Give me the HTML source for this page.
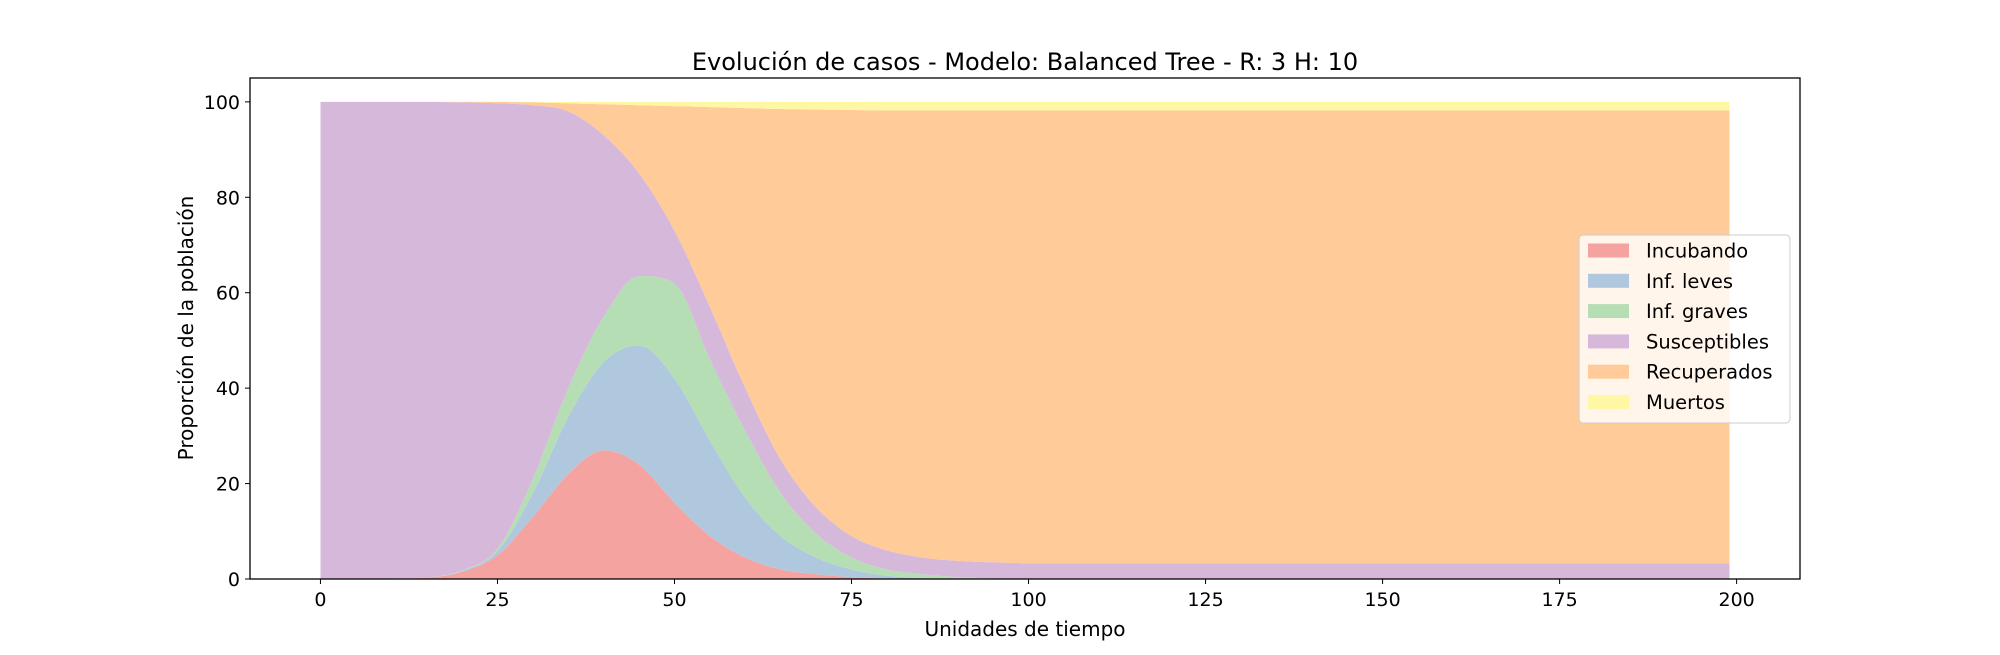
<!DOCTYPE html>
<html><head><meta charset="utf-8"><style>
body{margin:0;background:#fff;}
svg text{font-family:"DejaVu Sans","Liberation Sans",sans-serif;fill:#000;}
</style></head><body>
<svg id="chart" width="2000" height="650" viewBox="0 0 2000 650" xmlns="http://www.w3.org/2000/svg">
<text x="1025" y="70" font-size="24" text-anchor="middle">Evolución de casos - Modelo: Balanced Tree - R: 3 H: 10</text>
<g id="areas"></g>
<rect x="250" y="78" width="1550" height="501" fill="none" stroke="#000" stroke-width="1.3"/>
<g id="xt"></g>
<g id="yt"></g>
<text x="1025" y="636" font-size="20" text-anchor="middle">Unidades de tiempo</text>
<text transform="translate(193,328) rotate(-90)" font-size="20" text-anchor="middle">Proporción de la población</text>
<g>
<rect x="1579" y="235" width="211" height="188" rx="4" fill="#fff" fill-opacity="0.8" stroke="#ccc"/>
<g id="leg"></g>
</g>
</svg>
<script>
const times=[0,5,10,15,20,25,30,35,40,45,50,55,60,65,70,75,80,85,90,95,100,105,110,115,120,125,130,135,140,145,150,155,160,165,170,175,180,185,190,195,199];
const incubando=[0,0,0.1,0.3,1.5,5,13,22,27,24,16,9,4.5,2,1,0.4,0.1,0,0,0,0,0,0,0,0,0,0,0,0,0,0,0,0,0,0,0,0,0,0,0,0];
const leves=[0,0,0,0,0.2,0.8,5,12,18.5,25,26,20,12.5,7,3.5,1.6,0.6,0.2,0,0,0,0,0,0,0,0,0,0,0,0,0,0,0,0,0,0,0,0,0,0,0];
const graves=[0,0,0,0,0.1,0.5,3,6,9.5,14.5,20,17,14,9,5,2.5,1.3,0.8,0.4,0.1,0,0,0,0,0,0,0,0,0,0,0,0,0,0,0,0,0,0,0,0,0];
const susceptibles=[100,100,99.9,99.7,98.1,93.4,78.3,58,38,21.5,11,11,9,7,5.5,4.5,4,3.5,3.4,3.4,3.3,3.3,3.3,3.3,3.3,3.3,3.3,3.3,3.3,3.3,3.3,3.3,3.3,3.3,3.3,3.3,3.3,3.3,3.3,3.3,3.3];
const recuperados=[0,0,0,0,0.1,0.3,0.6,1.7,6.5,14.3,26.1,41.9,58.7,73.5,83.4,89.3,92.2,93.7,94.4,94.7,94.9,94.9,94.9,94.9,94.9,94.9,94.9,94.9,94.9,94.9,94.9,94.9,94.9,94.9,94.9,94.9,94.9,94.9,94.9,94.9,94.9];
const muertos=[0,0,0,0,0,0,0.1,0.3,0.5,0.7,0.9,1.1,1.3,1.5,1.6,1.7,1.8,1.8,1.8,1.8,1.8,1.8,1.8,1.8,1.8,1.8,1.8,1.8,1.8,1.8,1.8,1.8,1.8,1.8,1.8,1.8,1.8,1.8,1.8,1.8,1.8];
const seriesNames=["Incubando","Inf. leves","Inf. graves","Susceptibles","Recuperados","Muertos"];
const xTicks=[0,25,50,75,100,125,150,175,200];
const yTicks=[0,20,40,60,80,100];
const colors=["#f4a3a1","#afc8de","#b6deb5","#d6b8da","#ffcb99","#fff7a3"];
const X0=250,X1=1800,Y0=78,Y1=579,xmin=-9.95,xmax=208.95,ymin=0,ymax=105;
const sx=v=>X0+(v-xmin)/(xmax-xmin)*(X1-X0);
const sy=v=>Y1-(v-ymin)/(ymax-ymin)*(Y1-Y0);
const NS="http://www.w3.org/2000/svg";
function mono(xs,ys,step){
  const n=xs.length,d=[],m=new Array(n);
  for(let i=0;i<n-1;i++) d.push((ys[i+1]-ys[i])/(xs[i+1]-xs[i]));
  m[0]=d[0];m[n-1]=d[n-2];
  for(let i=1;i<n-1;i++){ m[i]=(d[i-1]*d[i]<=0)?0:(d[i-1]+d[i])/2; }
  for(let i=0;i<n-1;i++){
    if(d[i]===0){m[i]=0;m[i+1]=0;continue;}
    const a=m[i]/d[i],b=m[i+1]/d[i],s=a*a+b*b;
    if(s>9){const t=3/Math.sqrt(s);m[i]=t*a*d[i];m[i+1]=t*b*d[i];}
  }
  const out=[];
  for(let i=0;i<n-1;i++){
    const h=xs[i+1]-xs[i];
    for(let x=xs[i];x<xs[i+1]-1e-9;x+=step){
      const t=(x-xs[i])/h,t2=t*t,t3=t2*t;
      out.push([x,(2*t3-3*t2+1)*ys[i]+(t3-2*t2+t)*h*m[i]+(-2*t3+3*t2)*ys[i+1]+(t3-t2)*h*m[i+1]]);
    }
  }
  out.push([xs[n-1],ys[n-1]]);
  return out;
}
const all=[incubando,leves,graves,susceptibles,recuperados,muertos];
const slug=["incubando","inf-leves","inf-graves","susceptibles","recuperados","muertos"];
const g=document.getElementById('areas');
let base=times.map(()=>0);
let baseCurve=mono(times,base,1);
all.forEach((s,k)=>{
  const top=base.map((b,i)=>b+s[i]);
  const topCurve=mono(times,top,1).map((p,i)=>[p[0],Math.max(p[1],baseCurve[i][1])]);
  let d="M"+topCurve.map(p=>sx(p[0]).toFixed(1)+","+sy(p[1]).toFixed(1)).join("L");
  for(let i=baseCurve.length-1;i>=0;i--) d+="L"+sx(baseCurve[i][0]).toFixed(1)+","+sy(baseCurve[i][1]).toFixed(1);
  d+="Z";
  const p=document.createElementNS(NS,'path');
  p.setAttribute('d',d);p.setAttribute('fill',colors[k]);
  
  
  g.appendChild(p);
  base=top;baseCurve=topCurve;
});
const xt=document.getElementById('xt');
xTicks.forEach(v=>{
  const l=document.createElementNS(NS,'line');
  l.setAttribute('x1',sx(v));l.setAttribute('x2',sx(v));l.setAttribute('y1',Y1);l.setAttribute('y2',Y1+5);l.setAttribute('stroke','#000');
  
  
  xt.appendChild(l);
  const t=document.createElementNS(NS,'text');
  t.setAttribute('x',sx(v));t.setAttribute('y',Y1+27);t.setAttribute('font-size','19');t.setAttribute('text-anchor','middle');
  t.textContent=v;
  
  
  xt.appendChild(t);
});
const yt=document.getElementById('yt');
yTicks.forEach(v=>{
  const l=document.createElementNS(NS,'line');
  l.setAttribute('x1',X0-5);l.setAttribute('x2',X0);l.setAttribute('y1',sy(v));l.setAttribute('y2',sy(v));l.setAttribute('stroke','#000');
  
  
  yt.appendChild(l);
  const t=document.createElementNS(NS,'text');
  t.setAttribute('x',X0-10);t.setAttribute('y',sy(v)+7);t.setAttribute('font-size','19');t.setAttribute('text-anchor','end');
  t.textContent=v;
  
  
  yt.appendChild(t);
});
const leg=document.getElementById('leg');
seriesNames.forEach((n,k)=>{
  const y=250.5+k*30.3;
  const r=document.createElementNS(NS,'rect');
  r.setAttribute('x',1588);r.setAttribute('y',y-7);r.setAttribute('width',41);r.setAttribute('height',14);r.setAttribute('fill',colors[k]);
  
  
  leg.appendChild(r);
  const t=document.createElementNS(NS,'text');
  t.setAttribute('x',1646);t.setAttribute('y',y+7);t.setAttribute('font-size','19.5');
  t.textContent=n;
  
  
  leg.appendChild(t);
});
</script>
</body></html>
